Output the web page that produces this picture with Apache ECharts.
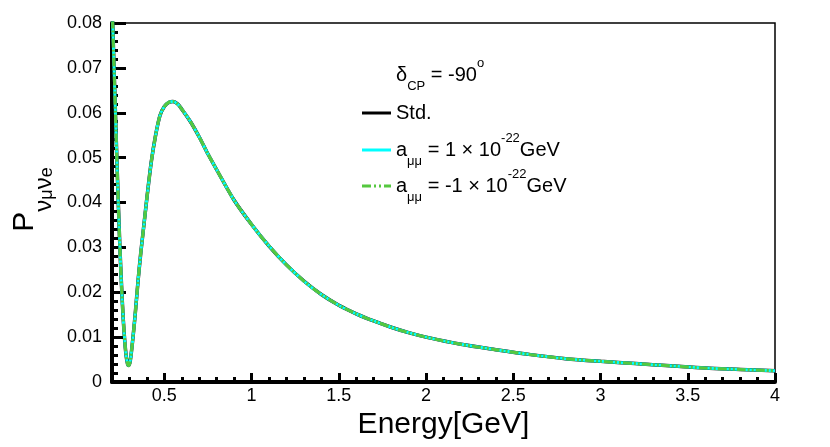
<!DOCTYPE html>
<html>
<head>
<meta charset="utf-8">
<script src="https://cdn.jsdelivr.net/npm/echarts@6/dist/echarts.min.js"></script>
<style>
  html, body { margin: 0; padding: 0; background: #fff; }
  #main { width: 830px; height: 447px; }
</style>
</head>
<body>
<div id="main"></div>
<script>
// energy in GeV
var energy = [0.200, 0.210, 0.220, 0.230, 0.240, 0.250, 0.260, 0.270, 0.280, 0.290,
  0.297, 0.305, 0.315, 0.325, 0.335, 0.350, 0.365, 0.380, 0.400, 0.425,
  0.450, 0.475, 0.500, 0.525, 0.550, 0.575, 0.600, 0.650, 0.700, 0.750,
  0.800, 0.900, 1.000, 1.100, 1.200, 1.300, 1.400, 1.500, 1.600, 1.700,
  1.800, 1.900, 2.000, 2.200, 2.400, 2.600, 2.800, 3.000, 3.200, 3.400,
  3.600, 3.800, 4.000];
// P(numu -> nue), standard
var probStd = [0.0850, 0.0722, 0.0595, 0.0470, 0.0355, 0.0255, 0.0172, 0.0107, 0.0062, 0.0039,
  0.0037, 0.0048, 0.0080, 0.0118, 0.0160, 0.0228, 0.0288, 0.0340, 0.0410, 0.0490,
  0.0550, 0.0594, 0.0614, 0.0623, 0.0625, 0.0620, 0.0608, 0.0580, 0.0546, 0.0508,
  0.0473, 0.0405, 0.0351, 0.0303, 0.0261, 0.0225, 0.0195, 0.0171, 0.0152, 0.0136,
  0.0122, 0.0110, 0.0100, 0.0084, 0.0072, 0.0061, 0.0052, 0.0046, 0.0041, 0.0036,
  0.0031, 0.0028, 0.0025];
// a_mumu = +1e-22 GeV
var probPos = [0.0850, 0.0722, 0.0595, 0.0470, 0.0355, 0.0255, 0.0172, 0.0107, 0.0062, 0.0039,
  0.0037, 0.0048, 0.0080, 0.0118, 0.0160, 0.0228, 0.0288, 0.0340, 0.0410, 0.0490,
  0.0550, 0.0594, 0.0614, 0.0623, 0.0625, 0.0620, 0.0608, 0.0580, 0.0546, 0.0508,
  0.0473, 0.0405, 0.0351, 0.0303, 0.0261, 0.0225, 0.0195, 0.0171, 0.0152, 0.0136,
  0.0122, 0.0110, 0.0100, 0.0084, 0.0072, 0.0061, 0.0052, 0.0046, 0.0041, 0.0036,
  0.0031, 0.0028, 0.0025];
// a_mumu = -1e-22 GeV
var probNeg = [0.0850, 0.0722, 0.0595, 0.0470, 0.0355, 0.0255, 0.0172, 0.0107, 0.0062, 0.0039,
  0.0037, 0.0048, 0.0080, 0.0118, 0.0160, 0.0228, 0.0288, 0.0340, 0.0410, 0.0490,
  0.0550, 0.0594, 0.0614, 0.0623, 0.0625, 0.0620, 0.0608, 0.0580, 0.0546, 0.0508,
  0.0473, 0.0405, 0.0351, 0.0303, 0.0261, 0.0225, 0.0195, 0.0171, 0.0152, 0.0136,
  0.0122, 0.0110, 0.0100, 0.0084, 0.0072, 0.0061, 0.0052, 0.0046, 0.0041, 0.0036,
  0.0031, 0.0028, 0.0025];

var xTickLabels = [0.5, 1, 1.5, 2, 2.5, 3, 3.5, 4];
var xMinorTicks = [];
for (var t = 3; t < 40; t++) { if (t % 5 != 0) xMinorTicks.push(t / 10); }

var FONT = 'Liberation Sans';

function pairs(xs, ys) {
  return xs.map(function (x, i) { return [x, ys[i]]; });
}

// rich styles for sub/superscripts (20px text)
var rich20 = {
  t: { fontSize: 20, fontFamily: FONT, fontWeight: 'normal', color: '#000', lineHeight: 36 },
  s: { fontSize: 13, fontFamily: FONT, fontWeight: 'normal', color: '#000', lineHeight: 24, verticalAlign: 'bottom' },
  p: { fontSize: 13, fontFamily: FONT, fontWeight: 'normal', color: '#000', lineHeight: 30, verticalAlign: 'top' }
};

var legendText = {
  'Std.': '{t|Std.}',
  'pos': '{t|a}{s|μμ}{t| = 1 × 10}{p|-22}{t|GeV}',
  'neg': '{t|a}{s|μμ}{t| = -1 × 10}{p|-22}{t|GeV}'
};
var solidIcon = 'path://M0,0H29V3H0Z';
var dashIcon = 'path://M0,0H9V3H0Z M12,0H14V3H12Z M17,0H19V3H17Z M22,0H29V3H22Z';

function oneLegend(name, icon, top) {
  return {
    orient: 'vertical', left: 362, top: top,
    itemWidth: 29, itemHeight: 3, padding: 0,
    data: [{ name: name, icon: icon }],
    formatter: function (n) { return legendText[n]; },
    textStyle: { rich: rich20 }
  };
}

var chart = echarts.init(document.getElementById('main'));

var option = {
  animation: false,
  backgroundColor: '#fff',
  grid: { left: 112, right: 55, top: 23, bottom: 65, show: true, borderColor: '#000', borderWidth: 1.5 },
  title: {
    text: '{t|δ}{s|CP}{t| = -90}{p|o}',
    left: 396, top: 57, padding: 0,
    textStyle: { fontWeight: 'normal', rich: rich20 }
  },
  legend: [
    oneLegend('Std.', solidIcon, 103),
    oneLegend('pos', solidIcon, 132),
    oneLegend('neg', dashIcon, 168)
  ],
  xAxis: [{
    type: 'value', min: 0.2, max: 4,
    axisLine: { lineStyle: { color: '#000', width: 4 } },
    axisTick: { inside: true, length: 9, customValues: xTickLabels, lineStyle: { color: '#000', width: 3 } },
    axisLabel: { customValues: xTickLabels, fontSize: 18, fontFamily: FONT, color: '#000', margin: 5 },
    splitLine: { show: false },
    name: 'Energy[GeV]', nameLocation: 'middle', nameGap: 27,
    nameTextStyle: { fontSize: 30, fontFamily: FONT, color: '#000' }
  }, {
    type: 'value', min: 0.2, max: 4, position: 'bottom',
    axisLine: { show: false },
    axisTick: { inside: true, length: 5, customValues: xMinorTicks, lineStyle: { color: '#000', width: 3 } },
    axisLabel: { show: false },
    splitLine: { show: false }
  }],
  yAxis: {
    type: 'value', min: 0, max: 0.08, interval: 0.01,
    axisLine: { lineStyle: { color: '#000', width: 4 } },
    axisTick: { inside: true, length: 14, lineStyle: { color: '#000', width: 3 } },
    minorTick: { show: true, splitNumber: 5, length: 6, lineStyle: { color: '#000', width: 3 } },
    axisLabel: {
      fontSize: 18, fontFamily: FONT, color: '#000', margin: 10,
      formatter: function (v) { return v === 0 ? '0' : v.toFixed(2); }
    },
    splitLine: { show: false },
    name: '{z|\u200b}{P|P}{s|ν}{m|μ}{s|ν}{e|e}',
    nameLocation: 'middle', nameRotate: 90, nameGap: 56, nameMoveOverlap: false,
    nameTextStyle: {
      padding: [0, 0, 0, 6],
      rich: {
        z: { fontSize: 10, lineHeight: 46 },
        P: { fontSize: 30, fontFamily: FONT, color: '#000', lineHeight: 30, verticalAlign: 'top' },
        s: { fontSize: 24, fontFamily: FONT, color: '#000', lineHeight: 28, verticalAlign: 'bottom' },
        m: { fontSize: 18, fontFamily: FONT, color: '#000', lineHeight: 14, verticalAlign: 'bottom' },
        e: { fontSize: 18, fontFamily: FONT, color: '#000', lineHeight: 30, verticalAlign: 'bottom' }
      }
    }
  },
  series: [{
    name: 'Std.', type: 'line', xAxisIndex: 0,
    data: pairs(energy, probStd),
    smooth: 0.3, showSymbol: false, symbol: 'none',
    lineStyle: { color: '#000', width: 3.5 }, itemStyle: { color: '#000' }
  }, {
    name: 'pos', type: 'line', xAxisIndex: 0,
    data: pairs(energy, probPos),
    smooth: 0.3, showSymbol: false, symbol: 'none',
    lineStyle: { color: '#00ffff', width: 3 }, itemStyle: { color: '#00ffff' }
  }, {
    name: 'neg', type: 'line', xAxisIndex: 0,
    data: pairs(energy, probNeg),
    smooth: 0.3, showSymbol: false, symbol: 'none',
    lineStyle: { color: '#55c83f', width: 3, type: [9, 2, 2, 2, 2, 2] }, itemStyle: { color: '#55c83f' }
  }]
};

chart.setOption(option);
</script>
</body>
</html>
